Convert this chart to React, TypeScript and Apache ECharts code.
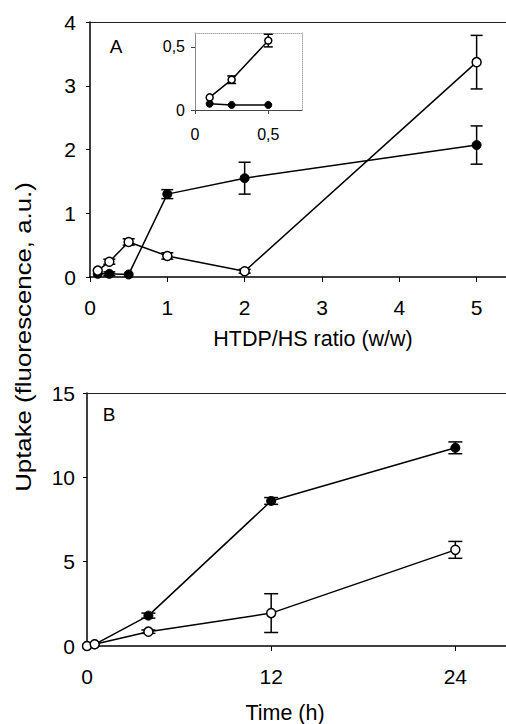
import React, { useEffect, useRef } from "react";
import * as echarts from "echarts";

// Panel A: uptake vs HTDP/HS ratio
const ratioA = [0.1, 0.25, 0.5, 1, 2, 5];
const openA = [0.1, 0.24, 0.55, 0.33, 0.09, 3.37];
const openAErr = [0, 0.04, 0.05, 0.05, 0.03, 0.42];
const filledA = [0.05, 0.05, 0.04, 1.3, 1.55, 2.07];
const filledAErr = [0, 0.03, 0, 0.07, 0.25, 0.3];

// Inset (zoom of the first three points)
const ratioInset = [0.1, 0.25, 0.5];
const openInset = [0.1, 0.24, 0.55];
const openInsetErr = [0, 0.03, 0.05];
const filledInset = [0.05, 0.04, 0.04];

// Panel B: uptake vs time
const timeB = [0, 0.5, 4, 12, 24];
const openB = [0, 0.1, 0.85, 1.95, 5.7];
const openBErr = [0, 0, 0.1, 1.15, 0.5];
const filledB = [0, 0.1, 1.8, 8.6, 11.75];
const filledBErr = [0, 0, 0.15, 0.2, 0.35];

const xTicksA = [0, 1, 2, 3, 4, 5];
const xTicksB = [0, 12, 24];

const FONT = "'Liberation Sans', Arial, sans-serif";

function pairs(xs: number[], ys: number[]) {
  return xs.map((x, i) => [x, ys[i]]);
}

function errSeries(axisIdx: number, xs: number[], ys: number[], errs: number[], cap: number) {
  return {
    type: "custom",
    xAxisIndex: axisIdx,
    yAxisIndex: axisIdx,
    silent: true,
    z: 1,
    encode: { x: 0, y: [1, 2] },
    data: xs.map((x, i) => [x, ys[i] - errs[i], ys[i] + errs[i]]),
    renderItem: (params: any, api: any) => {
      const lo = api.coord([api.value(0), api.value(1)]);
      const hi = api.coord([api.value(0), api.value(2)]);
      if (Math.abs(hi[1] - lo[1]) < 1) return { type: "group", children: [] };
      const st = { stroke: "#000", lineWidth: 1.5 };
      return {
        type: "group",
        children: [
          { type: "line", shape: { x1: lo[0], y1: lo[1], x2: hi[0], y2: hi[1] }, style: st },
          { type: "line", shape: { x1: hi[0] - cap / 2, y1: hi[1], x2: hi[0] + cap / 2, y2: hi[1] }, style: st },
          { type: "line", shape: { x1: lo[0] - cap / 2, y1: lo[1], x2: lo[0] + cap / 2, y2: lo[1] }, style: st },
        ],
      };
    },
  };
}

function lineSeries(axisIdx: number, xs: number[], ys: number[], open: boolean, size: number) {
  return {
    type: "line",
    xAxisIndex: axisIdx,
    yAxisIndex: axisIdx,
    data: pairs(xs, ys),
    symbol: "circle",
    symbolSize: size,
    showSymbol: true,
    z: 3,
    lineStyle: { color: "#000", width: 1.5 },
    itemStyle: open
      ? { color: "#fff", borderColor: "#000", borderWidth: 1.5 }
      : { color: "#000", borderColor: "#000", borderWidth: 1 },
  };
}

function mainX(gridIndex: number, max: number, interval: number, ticks: number[]) {
  return {
    type: "value",
    gridIndex,
    min: 0,
    max,
    interval,
    axisLine: { show: true, lineStyle: { color: "#000", width: 1.5 } },
    axisTick: { show: true, inside: false, length: 5, lineStyle: { color: "#000", width: 1 } },
    axisLabel: {
      color: "#000",
      fontSize: 21,
      fontFamily: FONT,
      margin: 20,
      showMaxLabel: false,
      formatter: (v: number) => (ticks.indexOf(v) >= 0 ? String(v) : ""),
    },
    splitLine: { show: false },
  };
}

function topBorder(gridIndex: number, max: number, color: string, type: string) {
  return {
    type: "value",
    gridIndex,
    position: "top",
    min: 0,
    max,
    axisLine: { show: true, onZero: false, lineStyle: { color, width: 1, type } },
    axisTick: { show: false },
    axisLabel: { show: false },
    splitLine: { show: false },
  };
}

export default function App() {
  const ref = useRef<HTMLDivElement>(null);
  useEffect(() => {
    if (!ref.current) return;
    const chart = echarts.init(ref.current, null, { renderer: "svg" });
    const maxA = 5.38;
    const maxB = 27.3;
    const maxIx = 0.73;
    const maxIy = 0.61;
    chart.setOption({
      animation: false,
      backgroundColor: "#fff",
      textStyle: { fontFamily: FONT },
      grid: [
        { left: 90, top: 22, width: 416, height: 255 },
        { left: 87, top: 393, width: 419, height: 253 },
        { left: 195, top: 33, width: 107, height: 77 },
      ],
      xAxis: [
        mainX(0, maxA, 1, xTicksA),
        mainX(1, maxB, 12, xTicksB),
        {
          type: "value",
          gridIndex: 2,
          min: 0,
          max: maxIx,
          interval: 0.5,
          axisLine: { show: true, onZero: false, lineStyle: { color: "#444", width: 1 } },
          axisTick: { show: true, length: 4, lineStyle: { color: "#444" } },
          axisLabel: {
            color: "#000",
            fontSize: 16,
            fontFamily: FONT,
            margin: 16,
            showMaxLabel: false,
            formatter: (v: number) => (v === 0 || v === 0.5 ? String(v).replace(".", ",") : ""),
          },
          splitLine: { show: false },
        },
        topBorder(0, maxA, "#222", "solid"),
        topBorder(1, maxB, "#222", "solid"),
        topBorder(2, maxIx, "#aaa", "dotted"),
      ],
      yAxis: [
        {
          type: "value",
          gridIndex: 0,
          min: 0,
          max: 4,
          interval: 1,
          axisLine: { show: true, lineStyle: { color: "#000", width: 1.5 } },
          axisTick: { show: true, length: 4, lineStyle: { color: "#000" } },
          axisLabel: { color: "#000", fontSize: 21, fontFamily: FONT, margin: 14 },
          splitLine: { show: false },
        },
        {
          type: "value",
          gridIndex: 1,
          min: 0,
          max: 15,
          interval: 5,
          axisLine: { show: true, lineStyle: { color: "#000", width: 1.5 } },
          axisTick: { show: true, length: 4, lineStyle: { color: "#000" } },
          axisLabel: { color: "#000", fontSize: 21, fontFamily: FONT, margin: 12 },
          splitLine: { show: false },
        },
        {
          type: "value",
          gridIndex: 2,
          min: 0,
          max: maxIy,
          interval: 0.5,
          axisLine: { show: true, onZero: false, lineStyle: { color: "#888", width: 1 } },
          axisTick: { show: true, length: 4, lineStyle: { color: "#444" } },
          axisLabel: {
            color: "#000",
            fontSize: 16,
            fontFamily: FONT,
            margin: 10,
            showMaxLabel: false,
            formatter: (v: number) => (v === 0 || v === 0.5 ? String(v).replace(".", ",") : ""),
          },
          splitLine: { show: false },
        },
        {
          type: "value",
          gridIndex: 2,
          position: "right",
          min: 0,
          max: maxIy,
          axisLine: { show: true, onZero: false, lineStyle: { color: "#aaa", width: 1, type: "dotted" } },
          axisTick: { show: false },
          axisLabel: { show: false },
          splitLine: { show: false },
        },
      ],
      series: [
        errSeries(0, ratioA, openA, openAErr, 12),
        errSeries(0, ratioA, filledA, filledAErr, 12),
        lineSeries(0, ratioA, filledA, false, 9),
        lineSeries(0, ratioA, openA, true, 9),
        errSeries(1, timeB, openB, openBErr, 14),
        errSeries(1, timeB, filledB, filledBErr, 14),
        lineSeries(1, timeB, filledB, false, 9),
        lineSeries(1, timeB, openB, true, 9),
        errSeries(2, ratioInset, openInset, openInsetErr, 9),
        lineSeries(2, ratioInset, filledInset, false, 7),
        lineSeries(2, ratioInset, openInset, true, 7),
      ],
      graphic: [
        {
          type: "text",
          x: 116,
          y: 46,
          style: { text: "A", fontSize: 19, fontFamily: FONT, fill: "#000", align: "center", verticalAlign: "middle" },
        },
        {
          type: "text",
          x: 109,
          y: 414,
          style: { text: "B", fontSize: 19, fontFamily: FONT, fill: "#000", align: "center", verticalAlign: "middle" },
        },
        {
          type: "text",
          x: 313,
          y: 339,
          style: {
            text: "HTDP/HS ratio (w/w)",
            fontSize: 21.5,
            fontFamily: FONT,
            fill: "#000",
            align: "center",
            verticalAlign: "middle",
          },
        },
        {
          type: "text",
          x: 285,
          y: 713,
          style: { text: "Time (h)", fontSize: 21.5, fontFamily: FONT, fill: "#000", align: "center", verticalAlign: "middle" },
        },
        {
          type: "text",
          x: 24,
          y: 337,
          rotation: Math.PI / 2,
          scaleX: 1.2,
          style: {
            text: "Uptake (fluorescence, a.u.)",
            fontSize: 21.5,
            fontFamily: FONT,
            fill: "#000",
            align: "center",
            verticalAlign: "middle",
          },
        },
      ],
    });
    return () => chart.dispose();
  }, []);
  return <div ref={ref} style={{ position: "absolute", left: 0, top: 0, width: 506, height: 724 }} />;
}
